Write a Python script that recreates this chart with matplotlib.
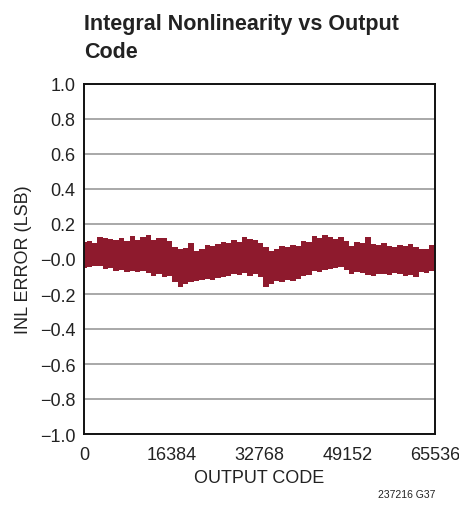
import matplotlib
matplotlib.use("Agg")
import matplotlib.pyplot as plt
from matplotlib import font_manager

# INL envelope (output code, LSB)
codes = [0, 1000, 2000, 3000, 4000, 5000, 6000, 7000, 8000, 9000,
         10000, 11000, 12000, 13000, 14000, 15000, 16000, 17000, 18000, 19000,
         20000, 21000, 22000, 23000, 24000, 25000, 26000, 27000, 28000, 29000,
         30000, 31000, 32000, 33000, 34000, 35000, 36000, 37000, 38000, 39000,
         40000, 41000, 42000, 43000, 44000, 45000, 46000, 47000, 48000, 49000,
         50000, 51000, 52000, 53000, 54000, 55000, 56000, 57000, 58000, 59000,
         60000, 61000, 62000, 63000, 64000, 65000, 65535]
inl_max = [0.100, 0.105, 0.090, 0.127, 0.120, 0.114, 0.110, 0.118, 0.105, 0.133,
           0.109, 0.126, 0.139, 0.110, 0.118, 0.120, 0.105, 0.070, 0.057, 0.063,
           0.091, 0.047, 0.055, 0.082, 0.075, 0.085, 0.097, 0.090, 0.109, 0.100,
           0.126, 0.114, 0.108, 0.090, 0.067, 0.047, 0.060, 0.076, 0.070, 0.082,
           0.075, 0.105, 0.095, 0.133, 0.120, 0.140, 0.124, 0.115, 0.124, 0.105,
           0.076, 0.095, 0.090, 0.127, 0.086, 0.080, 0.090, 0.076, 0.070, 0.082,
           0.076, 0.085, 0.070, 0.057, 0.060, 0.082, 0.090]
inl_min = [-0.050, -0.046, -0.040, -0.042, -0.057, -0.050, -0.067, -0.060, -0.074, -0.070,
           -0.074, -0.068, -0.080, -0.095, -0.088, -0.103, -0.098, -0.133, -0.162, -0.140,
           -0.133, -0.124, -0.118, -0.114, -0.120, -0.110, -0.103, -0.098, -0.086, -0.090,
           -0.080, -0.095, -0.088, -0.103, -0.160, -0.143, -0.124, -0.130, -0.120, -0.124,
           -0.115, -0.095, -0.090, -0.067, -0.072, -0.060, -0.057, -0.050, -0.047, -0.060,
           -0.086, -0.076, -0.080, -0.090, -0.095, -0.088, -0.086, -0.090, -0.080, -0.086,
           -0.095, -0.090, -0.100, -0.076, -0.080, -0.070, -0.076]

xticks = [0, 16384, 32768, 49152, 65536]
yticks = [-1.0, -0.8, -0.6, -0.4, -0.2, 0.0, 0.2, 0.4, 0.6, 0.8, 1.0]
ylabels = ["\u22121.0", "\u22120.8", "\u22120.6", "\u22120.4", "\u22120.2", "\u22120.0",
           "0.2", "0.4", "0.6", "0.8", "1.0"]

# pick a narrow font if one is around
names = {f.name for f in font_manager.fontManager.ttflist}
narrow = "Liberation Sans Narrow" if "Liberation Sans Narrow" in names else "Liberation Sans"
plt.rcParams["font.family"] = [narrow, "DejaVu Sans"]

fig = plt.figure(figsize=(4.6, 5.06), dpi=100)
ax = fig.add_axes([84 / 460, 1 - 435 / 506, 351 / 460, 350 / 506])

ax.fill_between(codes, inl_min, inl_max, step="mid", color="#8e1a2d", linewidth=0)

ax.set_xlim(0, 65536)
ax.set_ylim(-1.0, 1.0)
ax.set_xticks(xticks)
ax.set_xticklabels([str(t) for t in xticks])
ax.set_yticks(yticks)
ax.set_yticklabels(ylabels)
ax.tick_params(length=0, labelsize=13, pad=6, colors="#222222")
ax.tick_params(axis="x", pad=9)
ax.yaxis.grid(True, color="#a8a8a8", linewidth=1.4)
ax.set_axisbelow(True)
for s in ax.spines.values():
    s.set_linewidth(1.4)
    s.set_color("#111111")

ax.set_xlabel("OUTPUT CODE", fontsize=13, color="#222222", labelpad=4)
ax.set_ylabel("INL ERROR (LSB)", fontsize=13, color="#222222", labelpad=6)

# title, two lines placed by baseline
fig.text(84 / 460, 1 - 30 / 506, "Integral Nonlinearity vs Output",
         fontsize=15.5, fontweight="bold", color="#222222", ha="left", va="baseline")
fig.text(84 / 460, 1 - 58 / 506, "Code",
         fontsize=15.5, fontweight="bold", color="#222222", ha="left", va="baseline")
fig.text(435 / 460, 1 - 498 / 506, "237216 G37", fontsize=7.5, color="#222222",
         ha="right", va="baseline")

fig.savefig("out.png", dpi=100)
plt.close(fig)
